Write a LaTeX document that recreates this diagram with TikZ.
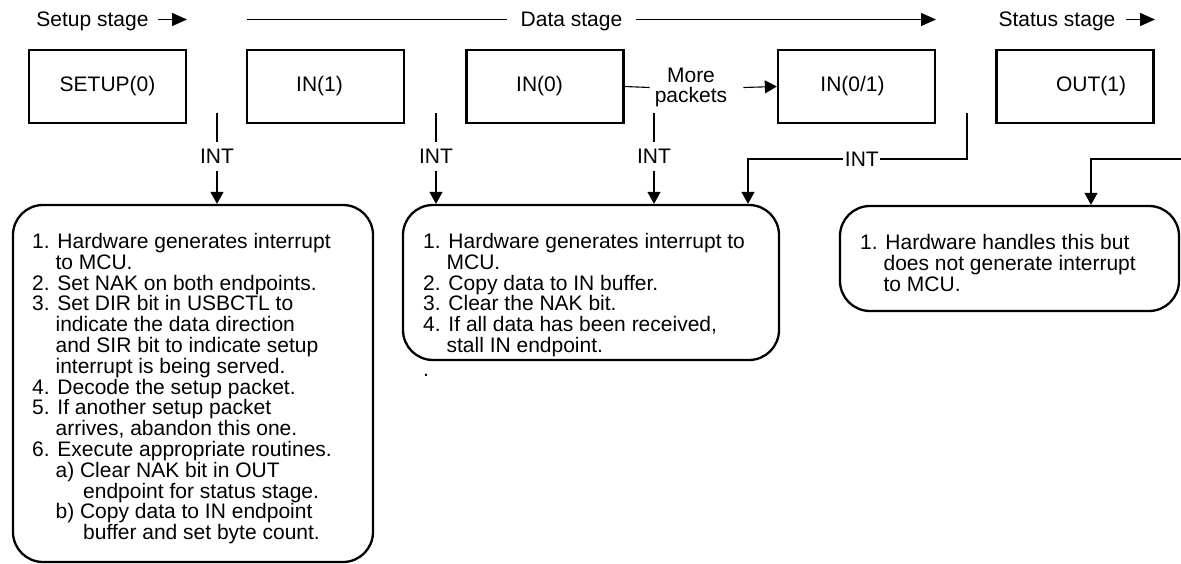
\documentclass[tikz,border=0pt]{standalone}
\usepackage{fontspec}
\setmainfont{Liberation Sans}
\usetikzlibrary{arrows.meta}
\begin{document}
\begin{tikzpicture}[x=1pt,y=-1pt,
  every node/.style={font=\fontsize{21}{20.8}\selectfont},
  packet/.style={draw, line width=2.3pt, minimum width=157pt, minimum height=73pt, inner sep=0pt},
  bubble/.style={draw, line width=2.3pt, rounded corners=30pt, inner sep=0pt},
  conn/.style={line width=1.1pt},
  tip/.style={conn, -{Triangle[length=12pt,width=13pt]}},
  stagetip/.style={line width=1.3pt, -{Triangle[length=15pt,width=13pt]}},
  stagelbl/.style={anchor=base, inner ysep=0pt},
  intlbl/.style={fill=white, inner xsep=1pt, inner ysep=7.5pt},
  intside/.style={fill=white, inner xsep=1.5pt, inner ysep=1pt},
  notes/.style={anchor=north west, inner sep=0pt, align=left},
]
\useasboundingbox (0,0) rectangle (1181,564);

% stage headings
\node[stagelbl, inner xsep=9pt] (setuplbl) at (92.5,27) {Setup stage};
\node[stagelbl, inner xsep=14pt] (datalbl) at (571.5,27) {Data stage};
\node[stagelbl, inner xsep=10pt] (statuslbl) at (1057,27) {Status stage};
\coordinate (setupend) at (187,19.5);
\coordinate (datastart) at (247,19.5);
\coordinate (dataend) at (936,19.5);
\coordinate (statusend) at (1155,19.5);
\draw[stagetip] (setuplbl.east |- setupend) -- (setupend);
\draw[conn] (datastart) -- (datalbl.west |- datastart);
\draw[stagetip] (datalbl.east |- dataend) -- (dataend);
\draw[stagetip] (statuslbl.east |- statusend) -- (statusend);

% packets
\node[packet] (setup) at (107.5,86.5) {SETUP(0)};
\node[packet] (in1) at (325.5,86.5) {IN(1)\hspace*{12pt}};
\node[packet] (in0) at (545,86.5) {IN(0)\hspace*{11pt}};
\node[packet] (in01) at (856.5,86.5) {IN(0/1)\hspace*{8pt}};
\node[packet] (out1) at (1075,86.5) {\hspace*{32pt}OUT(1)};

% more packets branch
\node[align=center, inner sep=0pt] (more) at (691,87.5) {More\\packets};
\draw[conn] (in0.east) -- ([xshift=-5pt]more.west);
\draw[tip] ([xshift=16pt]more.east) -- (in01.west);

% firmware actions
\node[bubble, minimum width=360pt, minimum height=357pt] (b1) at (193,383.5) {};
\node[bubble, minimum width=376pt, minimum height=155pt] (b2) at (591,282.5) {};
\node[bubble, minimum width=339pt, minimum height=105pt] (b3) at (1009.5,258.5) {};

\node[notes] (t1) at (32,233) {1. Hardware generates interrupt\\
\hspace*{23.4pt}to MCU.\\
2. Set NAK on both endpoints.\\
3. Set DIR bit in USBCTL to\\
\hspace*{23.4pt}indicate the data direction\\
\hspace*{23.4pt}and SIR bit to indicate setup\\
\hspace*{23.4pt}interrupt is being served.\\
4. Decode the setup packet.\\
5. If another setup packet\\
\hspace*{23.4pt}arrives, abandon this one.\\
6. Execute appropriate routines.\\
\hspace*{23.4pt}a) Clear NAK bit in OUT\\
\hspace*{51pt}endpoint for status stage.\\
\hspace*{23.4pt}b) Copy data to IN endpoint\\
\hspace*{51pt}buffer and set byte count.};

\node[notes] (t2) at (423,233) {1. Hardware generates interrupt to\\
\hspace*{23.4pt}MCU.\\
2. Copy data to IN buffer.\\
3. Clear the NAK bit.\\
4. If all data has been received,\\
\hspace*{23.4pt}stall IN endpoint.};
\node[anchor=base west, inner sep=0pt] (dot) at (423,376) {.};

\node[notes] (t3) at (860,234) {1. Hardware handles this but\\
\hspace*{23.4pt}does not generate interrupt\\
\hspace*{23.4pt}to MCU.};

% interrupt paths
\coordinate (int1) at (217,113);
\coordinate (int2) at (436,113);
\coordinate (int3) at (654,113);
\coordinate (int4) at (967,113);
\coordinate (int4turn) at (748,159);
\coordinate (stsrc) at (1181,159);
\coordinate (stturn) at (1091,159);
\draw[tip] (int1) -- node[intlbl, pos=0.478] {INT} (int1 |- b1.north);
\draw[tip] (int2) -- node[intlbl, pos=0.478] {INT} (int2 |- b2.north);
\draw[tip] (int3) -- node[intlbl, pos=0.478] {INT} (int3 |- b2.north);
\draw[tip] (int4) -- (int4 |- int4turn) -- node[intside, pos=0.48] {INT} (int4turn) -- (int4turn |- b2.north);
\draw[tip] (stsrc) -- (stturn) -- (stturn |- b3.north);
\end{tikzpicture}
\end{document}
